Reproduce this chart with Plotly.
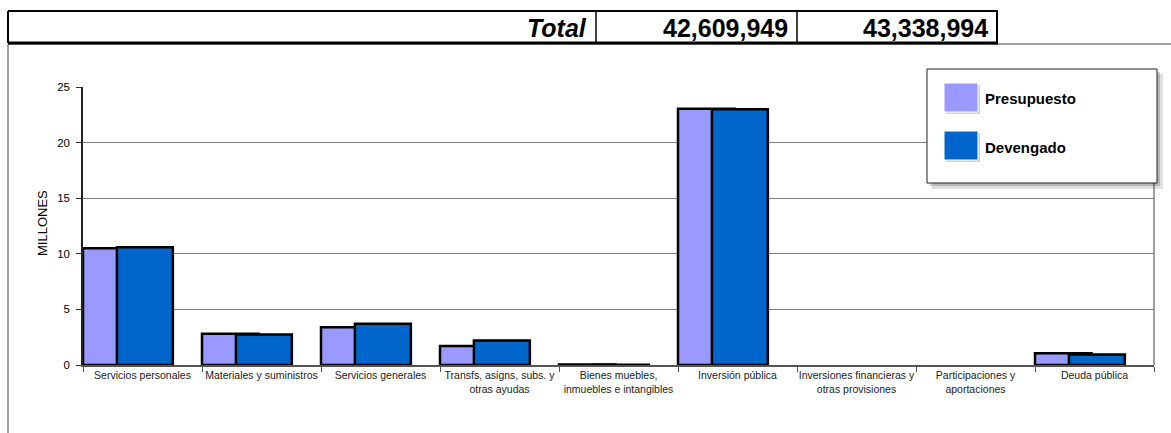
import plotly.graph_objects as go

categories = [
    "Servicios personales",
    "Materiales y suministros",
    "Servicios generales",
    "Transfs, asigns, subs. y<br>otras ayudas",
    "Bienes muebles,<br>inmuebles e intangibles",
    "Inversión pública",
    "Inversiones financieras y<br>otras provisiones",
    "Participaciones y<br>aportaciones",
    "Deuda pública",
]
presupuesto = [10.5, 2.8, 3.4, 1.7, 0.04, 23.05, 0.0, 0.0, 1.05]
devengado = [10.6, 2.75, 3.7, 2.2, 0.03, 23.0, 0.0, 0.0, 0.95]
series_names = ["Presupuesto", "Devengado"]
series_colors = ["#9999FF", "#0066CC"]
total_label = "Total"
total_values = ["42,609,949", "43,338,994"]
y_ticks = [0, 5, 10, 15, 20, 25]

W, H = 1171, 433
L, R, T, B = 83, 1154, 87, 365


def px(x):
    return (x - L) / (R - L)


def py(y):
    return (B - y) / (B - T)


def outline_widths(vals, w=2.5):
    return [w if v > 0 else 0 for v in vals]


fig = go.Figure()
fig.add_trace(go.Bar(
    x=categories, y=presupuesto, name=series_names[0],
    marker=dict(color=series_colors[0], line=dict(color="black", width=outline_widths(presupuesto))),
    offset=-0.5, width=0.475, showlegend=False,
))
fig.add_trace(go.Bar(
    x=categories, y=devengado, name=series_names[1],
    marker=dict(color=series_colors[1], line=dict(color="black", width=outline_widths(devengado))),
    offset=-0.215, width=0.47, showlegend=False,
))

shapes = []
annotations = []

# right border of plot area
shapes.append(dict(type="line", xref="paper", yref="paper", x0=1, x1=1, y0=0, y1=1,
                   line=dict(color="#808080", width=1.5)))

# outer frame lines
shapes.append(dict(type="line", xref="paper", yref="paper", x0=px(8), x1=px(1171), y0=py(44), y1=py(44),
                   line=dict(color="#444444", width=1)))
shapes.append(dict(type="line", xref="paper", yref="paper", x0=px(8), x1=px(8), y0=py(44), y1=py(433),
                   line=dict(color="#444444", width=1)))

# top table
shapes.append(dict(type="line", xref="paper", yref="paper", x0=px(8), x1=px(998), y0=py(11), y1=py(11),
                   line=dict(color="black", width=2)))
shapes.append(dict(type="line", xref="paper", yref="paper", x0=px(8), x1=px(998), y0=py(43), y1=py(43),
                   line=dict(color="black", width=3)))
for xv in [8, 596, 797, 997]:
    shapes.append(dict(type="line", xref="paper", yref="paper", x0=px(xv), x1=px(xv), y0=py(11), y1=py(43),
                       line=dict(color="black", width=2 if xv in (8, 997) else 1.5)))

annotations.append(dict(xref="paper", yref="paper", x=px(589), y=py(28), text="<b><i>%s</i></b>" % total_label,
                        showarrow=False, xanchor="right", yanchor="middle",
                        font=dict(family="Liberation Sans, Arial", size=25, color="black")))
for xr, val in zip([790, 990], total_values):
    annotations.append(dict(xref="paper", yref="paper", x=px(xr), y=py(28), text="<b>%s</b>" % val,
                            showarrow=False, xanchor="right", yanchor="middle",
                            font=dict(family="Liberation Sans, Arial", size=25, color="black")))

# y-axis title
annotations.append(dict(xref="paper", yref="paper", x=px(42), y=py(223), text="MILLONES", textangle=-90,
                        showarrow=False, xanchor="center", yanchor="middle",
                        font=dict(family="Liberation Sans, Arial", size=13, color="black")))

# custom legend
shapes.append(dict(type="rect", xref="paper", yref="paper", x0=px(932), x1=px(1163), y0=py(74), y1=py(189),
                   fillcolor="rgba(0,0,0,0.12)", line=dict(width=0)))
shapes.append(dict(type="rect", xref="paper", yref="paper", x0=px(930), x1=px(1160), y0=py(72), y1=py(186),
                   fillcolor="rgba(0,0,0,0.18)", line=dict(width=0)))
shapes.append(dict(type="rect", xref="paper", yref="paper", x0=px(927), x1=px(1157), y0=py(69), y1=py(183),
                   fillcolor="white", line=dict(color="#222222", width=1)))
for i, (nm, col) in enumerate(zip(series_names, series_colors)):
    y0 = 83 + i * 48
    shapes.append(dict(type="rect", xref="paper", yref="paper", x0=px(946), x1=px(980), y0=py(y0 + 2), y1=py(y0 + 31),
                       fillcolor="rgba(0,0,0,0.18)", line=dict(width=0)))
    shapes.append(dict(type="rect", xref="paper", yref="paper", x0=px(944), x1=px(978), y0=py(y0), y1=py(y0 + 29),
                       fillcolor=col, line=dict(color="white", width=1)))
    annotations.append(dict(xref="paper", yref="paper", x=px(983), y=py(y0 + 16), text="<b>%s</b>" % nm,
                            showarrow=False, xanchor="left", yanchor="middle",
                            font=dict(family="Liberation Sans, Arial", size=15, color="black")))

fig.update_layout(
    width=W, height=H,
    margin=dict(l=L, r=W - R, t=T, b=H - B, pad=0),
    paper_bgcolor="white", plot_bgcolor="white",
    barmode="overlay",
    font=dict(family="Liberation Sans, Arial", color="black"),
    shapes=shapes, annotations=annotations,
    xaxis=dict(
        type="category", range=[-0.5, len(categories) - 0.5],
        tickson="boundaries", ticks="outside", ticklen=5, tickcolor="#555555",
        showline=True, linecolor="#555555", linewidth=1.5,
        showgrid=False, tickfont=dict(size=10.5, color="#222222"),
        tickangle=0, fixedrange=True,
    ),
    yaxis=dict(
        range=[0, 25], tickvals=y_ticks, ticks="outside", ticklen=5, tickcolor="#333333",
        showline=True, linecolor="#222222", linewidth=1.5,
        showgrid=True, gridcolor="#808080", gridwidth=1,
        zeroline=False, tickfont=dict(size=11.5, color="black"), ticklabelstandoff=4,
        fixedrange=True,
    ),
)

fig.write_html("out.html")
